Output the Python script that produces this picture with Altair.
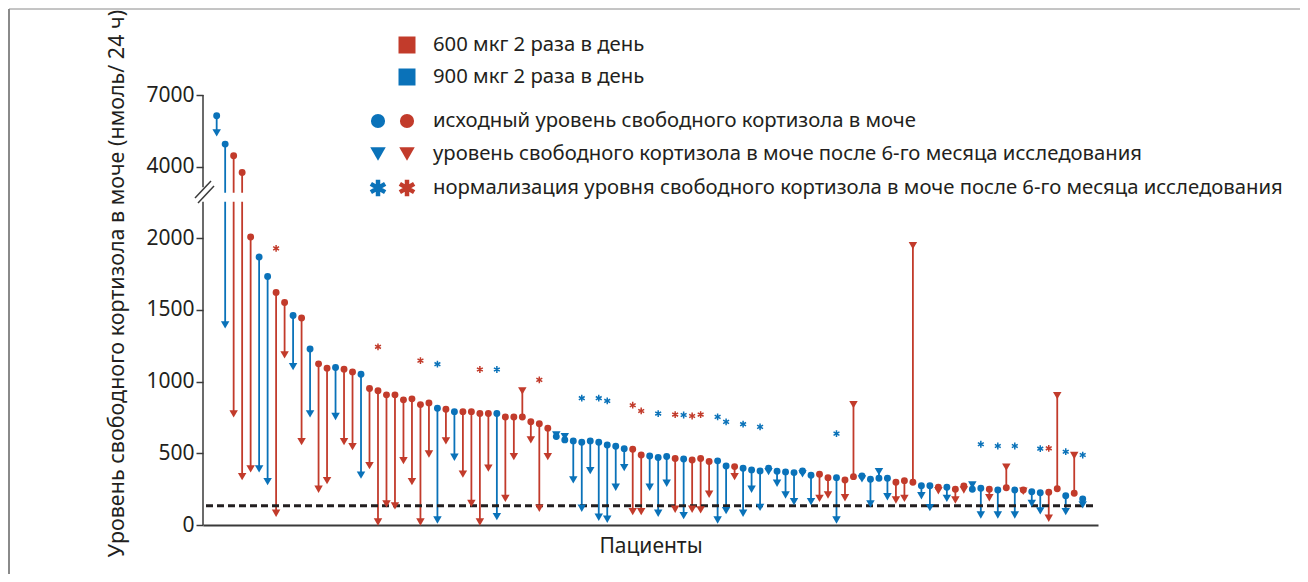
import altair as alt
import pandas as pd

# ---------------- data ----------------
groups = ["900", "900", "600", "600", "600", "900", "900", "600", "600", "900",
          "600", "900", "600", "600", "900", "600", "600", "900", "600", "600",
          "600", "600", "600", "600", "600", "600", "900", "600", "900", "600",
          "600", "600", "600", "900", "600", "600", "600", "600", "600", "600",
          "900", "900", "900", "900", "900", "900", "900", "900", "900", "600",
          "600", "900", "900", "900", "600", "900", "600", "600", "600", "900",
          "900", "600", "900", "900", "900", "900", "900", "900", "900", "900",
          "900", "600", "600", "900", "600", "600", "900", "900", "900", "900",
          "600", "600", "600", "900", "900", "600", "900", "600", "600", "900",
          "900", "600", "900", "600", "900", "600", "900", "900", "600", "600",
          "900", "600", "900"]

baseline = [6130, 4940, 4450, 3830, 2030, 1868, 1732, 1621, 1551, 1460,
            1442, 1226, 1123, 1093, 1097, 1086, 1067, 1051, 951, 935,
            907, 907, 872, 879, 839, 851, 814, 807, 790, 790,
            790, 777, 777, 777, 753, 753, 753, 719, 705, 675,
            616, 593, 586, 577, 586, 577, 558, 549, 532, 528,
            488, 481, 470, 477, 463, 460, 453, 463, 442, 447,
            412, 407, 396, 384, 377, 396, 375, 370, 365, 377,
            347, 354, 330, 330, 314, 337, 342, 319, 326, 326,
            298, 309, 298, 274, 274, 263, 263, 249, 272, 249,
            256, 249, 244, 260, 244, 244, 232, 225, 228, 253,
            204, 221, 181]

after6m = [5410, 1395, 774, 337, 391, 391, 302, 82, 1186, 1104,
           581, 774, 249, 309, 756, 581, 546, 348, 414, 21,
           147, 133, 449, 302, 21, 495, 35, 586, 472, 354,
           151, 21, 396, 58, 186, 477, 935, 593, 117, 477,
           628, 616, 314, 117, 379, 54, 40, 263, 400, 93,
           93, 263, 82, 291, 110, 65, 110, 105, 214, 35,
           100, 337, 82, 249, 123, 372, 291, 209, 163, 356,
           163, 186, 209, 35, 190, 839, 321, 147, 372, 197,
           174, 186, 1947, 204, 121, 239, 186, 174, 244, 279,
           70, 190, 70, 403, 70, 235, 151, 98, 47, 902,
           93, 484, 140]

normalized = [0, 0, 0, 0, 0, 0, 0, 1, 0, 0,
              0, 0, 0, 0, 0, 0, 0, 0, 0, 1,
              0, 0, 0, 0, 1, 0, 1, 0, 0, 0,
              0, 1, 0, 1, 0, 0, 0, 0, 1, 0,
              0, 0, 0, 1, 0, 1, 1, 0, 0, 1,
              1, 0, 1, 0, 1, 1, 1, 1, 0, 1,
              1, 0, 1, 0, 1, 0, 0, 0, 0, 0,
              0, 0, 0, 1, 0, 0, 0, 0, 0, 0,
              0, 0, 0, 0, 0, 0, 0, 0, 0, 0,
              1, 0, 1, 0, 1, 0, 0, 1, 1, 0,
              1, 0, 1]

normal_limit = 135
y_tick_values = [0, 500, 1000, 1500, 2000, 4000, 7000]
group_domain = ["600", "900"]

legend_labels = [
    "600 мкг 2 раза в день",
    "900 мкг 2 раза в день",
    "исходный уровень свободного кортизола в моче",
    "уровень свободного кортизола в моче после 6-го месяца исследования",
    "нормализация уровня свободного кортизола в моче после 6-го месяца исследования",
]
y_title = "Уровень свободного кортизола в моче (нмоль/ 24 ч)"
x_title = "Пациенты"

# ---------------- styling ----------------
RED = "#C23B2B"
BLUE = "#0A72B9"
INK = "#231F20"
FONT = "Noto Sans"
W, H = 895, 430
ASTERISK = "M0,-1L0,1M-0.87,-0.5L0.87,0.5M-0.87,0.5L0.87,-0.5"

df = pd.DataFrame({
    "patient": list(range(1, len(baseline) + 1)),
    "group": groups,
    "base": baseline,
    "after": after6m,
    "norm": normalized,
})

x_enc = alt.X("patient:Q",
              scale=alt.Scale(domain=[-0.61, 104.8], nice=False, zero=False),
              axis=alt.Axis(title=x_title, labels=False, ticks=False, grid=False,
                            domainColor="#3a3a3a", domainWidth=2,
                            titleFontSize=21, titleFontWeight="normal",
                            titleColor=INK, titlePadding=10, titleFont=FONT))
y_scale = alt.Scale(domain=[0, 2000, 4000, 7000], range=[H, H - 287, H - 358.5, 0],
                    nice=False, zero=False)
y_axis = alt.Axis(title=y_title, values=y_tick_values, format="d", grid=False, domain=False,
                  tickSize=7, tickColor="#3a3a3a", tickWidth=1.5,
                  labelFontSize=21, labelColor=INK, labelPadding=2, labelFont=FONT,
                  titleFontSize=21.5, titleFontWeight="normal", titleColor=INK, titleFont=FONT,
                  titleX=-86, titleY=188, titleAngle=270, titleAlign="center",
                  titleBaseline="middle")
color_enc = alt.Color("group:N", scale=alt.Scale(domain=group_domain, range=[RED, BLUE]),
                      legend=None)

base = alt.Chart(df)

stems = base.mark_rule(strokeWidth=1.8).encode(
    x=x_enc, y=alt.Y("base:Q", scale=y_scale, axis=y_axis), y2="after:Q", color=color_enc)

one = pd.DataFrame({"k": [0]})

band = alt.Chart(one).mark_rect(color="white").encode(
    x=alt.value(1), x2=alt.value(W), y=alt.datum(3014), y2=alt.datum(3265))

axis_low = alt.Chart(one).mark_rule(color="#3a3a3a", strokeWidth=1.5).encode(
    x=alt.value(0), y=alt.datum(0), y2=alt.datum(3014))
axis_high = alt.Chart(one).mark_rule(color="#3a3a3a", strokeWidth=1.5).encode(
    x=alt.value(0), y=alt.datum(3420), y2=alt.datum(7000))
slash1 = alt.Chart(one).mark_rule(color="#3a3a3a", strokeWidth=1.5).encode(
    x=alt.value(-8), y=alt.value(103), x2=alt.value(8), y2=alt.value(86))
slash2 = alt.Chart(one).mark_rule(color="#3a3a3a", strokeWidth=1.5).encode(
    x=alt.value(-5), y=alt.value(108), x2=alt.value(11), y2=alt.value(91))

dashed = alt.Chart(one).mark_rule(color=INK, strokeWidth=3, strokeDash=[7, 4]).encode(
    x=alt.value(3), x2=alt.value(W - 2), y=alt.datum(normal_limit))

circles = base.mark_point(shape="circle", filled=True, size=48, opacity=1).encode(
    x=x_enc, y=alt.Y("base:Q", scale=y_scale, axis=y_axis), color=color_enc)
triangles = base.mark_point(shape="triangle-down", filled=True, size=72, opacity=1).encode(
    x=x_enc, y=alt.Y("after:Q", scale=y_scale, axis=y_axis), color=color_enc)
stars = base.transform_filter("datum.norm == 1").mark_point(
    shape=ASTERISK, filled=False, size=46, strokeWidth=1.5, opacity=1, yOffset=-44).encode(
    x=x_enc, y=alt.Y("base:Q", scale=y_scale, axis=y_axis), color=color_enc)

# frame
frame_left = alt.Chart(one).mark_rule(color="#8a8a8a", strokeWidth=2).encode(
    x=alt.value(-194), y=alt.value(-86), y2=alt.value(H + 49))
frame_top = alt.Chart(one).mark_rule(color="#8a8a8a", strokeWidth=1).encode(
    x=alt.value(-194), x2=alt.value(W + 202), y=alt.value(-86))

# custom legend
leg_rows_y = [-50, -18, 26, 59, 93]
leg_layers = []
for lbl, yy in zip(legend_labels, leg_rows_y):
    leg_layers.append(alt.Chart(one).mark_text(
        align="left", baseline="middle", fontSize=20.3, font=FONT, color=INK).encode(
        x=alt.value(230), y=alt.value(yy), text=alt.value(lbl)))
leg_layers.append(alt.Chart(one).mark_point(shape="square", filled=True, size=289, color=RED, opacity=1)
                  .encode(x=alt.value(204), y=alt.value(leg_rows_y[0])))
leg_layers.append(alt.Chart(one).mark_point(shape="square", filled=True, size=289, color=BLUE, opacity=1)
                  .encode(x=alt.value(204), y=alt.value(leg_rows_y[1])))
for xx, col in [(175, BLUE), (204, RED)]:
    leg_layers.append(alt.Chart(one).mark_point(shape="circle", filled=True, size=200, color=col, opacity=1)
                      .encode(x=alt.value(xx), y=alt.value(leg_rows_y[2])))
    leg_layers.append(alt.Chart(one).mark_point(shape="triangle-down", filled=True, size=240, color=col, opacity=1)
                      .encode(x=alt.value(xx), y=alt.value(leg_rows_y[3])))
    leg_layers.append(alt.Chart(one).mark_point(shape=ASTERISK, filled=False, size=270, strokeWidth=4.5,
                                                color=col, opacity=1)
                      .encode(x=alt.value(xx), y=alt.value(leg_rows_y[4])))

chart = alt.layer(
    stems, band, dashed, axis_low, axis_high, slash1, slash2,
    circles, triangles, stars, frame_left, frame_top, *leg_layers
).properties(
    width=W, height=H,
    padding={"left": 195, "top": 87, "right": 202, "bottom": 49},
    autosize=alt.AutoSizeParams(type="none"),
).configure(font=FONT, view=alt.ViewConfig(stroke=None))

chart.save("out.html", embed_options={"renderer": "svg", "actions": False})
